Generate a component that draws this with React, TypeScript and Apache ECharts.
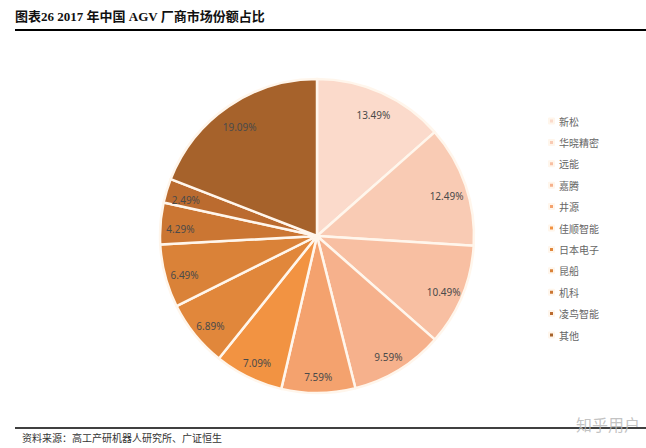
import React, { useEffect, useRef } from "react";
import * as echarts from "echarts";

const names = ["新松", "华晓精密", "远能", "嘉腾", "井源", "佳顺智能", "日本电子", "昆船", "机科", "凌鸟智能", "其他"];
const values = [13.49, 12.49, 10.49, 9.59, 7.59, 7.09, 6.89, 6.49, 4.29, 2.49, 19.09];
const colors = ["#FBDACB", "#F9CBB4", "#F8BFA2", "#F6B18C", "#F4A26E", "#F29342", "#E1873B", "#DA8238", "#CB7633", "#BB6B2F", "#A6622B"];
const titleText = "图表26 2017 年中国 AGV 厂商市场份额占比";
const sourceText = "资料来源：高工产研机器人研究所、广证恒生";
const watermark = "知乎用户";

export default function App() {
  const ref = useRef<HTMLDivElement>(null);
  useEffect(() => {
    if (!ref.current) return;
    const chart = echarts.init(ref.current, null, { renderer: "svg" });
    const data = names.map((n, i) => ({ name: n, value: values[i], itemStyle: { color: colors[i] } }));
    chart.setOption({
      animation: false,
      backgroundColor: "#ffffff",
      legend: {
        orient: "vertical",
        left: 543,
        top: 110,
        itemWidth: 5,
        itemHeight: 5,
        itemGap: 9.4,
        icon: "rect",
        data: names,
        textStyle: { fontSize: 10, color: "#666666", lineHeight: 12, fontFamily: "Noto Sans CJK SC" },
      },
      series: [
        {
          type: "pie",
          center: [317, 236],
          radius: [0, 157],
          startAngle: 90,
          clockwise: true,
          data,
          label: { show: false },
          labelLine: { show: false },
          itemStyle: { borderColor: "#FFF6EC", borderWidth: 2.5 },
          silent: true,
        },
        {
          type: "pie",
          center: [317, 240],
          radius: [111, 157],
          startAngle: 90,
          clockwise: true,
          data: names.map((n, i) => ({ name: n, value: values[i] })),
          itemStyle: { color: "rgba(0,0,0,0)", borderWidth: 0 },
          label: {
            show: true,
            position: "inside",
            formatter: (p: any) => p.value.toFixed(2) + "%",
            fontSize: 10,
            color: "#4a4a4a",
            fontFamily: "Noto Sans",
          },
          labelLine: { show: false },
          silent: true,
          legendHoverLink: false,
        },
      ],
      graphic: [
        {
          type: "text",
          left: 15,
          top: 10,
          style: { text: titleText, font: "bold 13px 'Liberation Serif', 'Noto Sans CJK SC'", fill: "#111" },
        },
        { type: "line", shape: { x1: 15, y1: 30, x2: 646, y2: 30 }, style: { stroke: "#000", lineWidth: 2 } },
        { type: "line", shape: { x1: 15, y1: 428, x2: 646, y2: 428 }, style: { stroke: "#000", lineWidth: 1.5 } },
        {
          type: "text",
          left: 22,
          top: 432,
          style: { text: sourceText, font: "10px 'Noto Sans CJK SC'", fill: "#333" },
        },
        {
          type: "text",
          left: 576,
          top: 416,
          style: { text: watermark, font: "16px 'Noto Sans CJK SC'", fill: "rgba(185,185,185,0.85)" },
        },
      ],
    });
    return () => chart.dispose();
  }, []);
  return <div ref={ref} style={{ position: "fixed", left: 0, top: 0, width: 646, height: 448 }} />;
}
